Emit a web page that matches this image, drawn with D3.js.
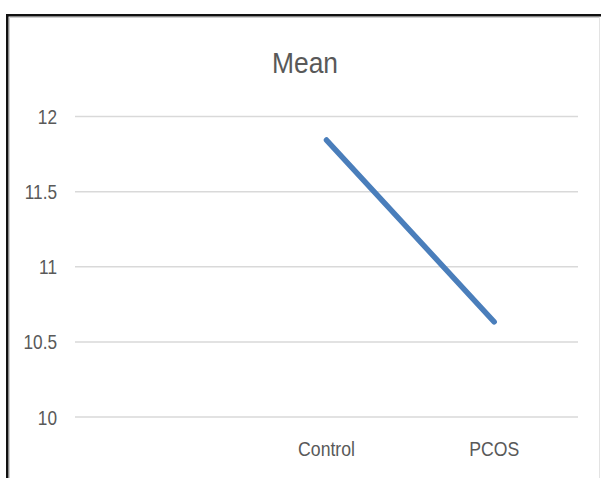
<!DOCTYPE html>
<html>
<head>
<meta charset="utf-8">
<script src="https://cdn.jsdelivr.net/npm/d3@7/dist/d3.min.js"></script>
<style>
  html, body { margin: 0; padding: 0; background: #fff; }
  svg { display: block; }
  text { font-family: "Liberation Sans", Arial, sans-serif; fill: #595959; }
</style>
</head>
<body>
<svg id="chart" width="601" height="478"></svg>
<script>
const title = "Mean";
const categories = ["", "Control", "PCOS"];
const values = [null, 11.84, 10.63];
const yTicks = [10, 10.5, 11, 11.5, 12];
const yDomain = [10, 12];

const W = 601, H = 478;
const svg = d3.select("#chart");

// condense text horizontally (reference uses a narrow font)
function condense(sel, factor) {
  sel.each(function () {
    const len = this.getComputedTextLength();
    if (len > 0) {
      d3.select(this).attr("textLength", len * factor).attr("lengthAdjust", "spacingAndGlyphs");
    }
  });
}

// frame
svg.append("rect").attr("x", 0).attr("y", 0).attr("width", W).attr("height", H).attr("fill", "#fff");
svg.append("path").attr("d", "M7.25,478 V15.25 H601")
  .attr("fill", "none").attr("stroke", "#111").attr("stroke-width", 2.5);
svg.append("path").attr("d", "M9.5,478 V17.5 H600")
  .attr("fill", "none").attr("stroke", "#d0d0d0").attr("stroke-width", 1);
svg.append("line").attr("x1", 599.5).attr("x2", 599.5).attr("y1", 17).attr("y2", 478)
  .attr("stroke", "#e3e3e3").attr("stroke-width", 1);

const x = d3.scaleBand().domain(categories).range([75, 578]).padding(0);
const y = d3.scaleLinear().domain(yDomain).range([416.5, 116]);

// title
svg.append("text").attr("x", 305).attr("y", 73).attr("text-anchor", "middle")
  .style("font-size", "30px").text(title).call(condense, 0.88);

// y axis (gridlines + labels)
const yAxis = d3.axisLeft(y).tickValues(yTicks).tickSize(-(578 - 75)).tickPadding(18)
  .tickFormat(d3.format("~g"));
const gy = svg.append("g").attr("transform", "translate(75,0)").call(yAxis);
gy.select(".domain").remove();
gy.selectAll(".tick line").attr("stroke", "#d9d9d9").attr("stroke-width", 1.5);
gy.selectAll(".tick text").style("font-size", "21px").attr("fill", "#595959")
  .attr("dy", "0.36em").call(condense, 0.82);

// x axis labels
const xAxis = d3.axisBottom(x).tickSize(0).tickPadding(25);
const gx = svg.append("g").attr("transform", "translate(0,416.5)").call(xAxis);
gx.select(".domain").remove();
gx.selectAll(".tick text").style("font-size", "21px").attr("fill", "#595959")
  .call(condense, 0.84);

// line
const line = d3.line()
  .defined(d => d.v != null)
  .x(d => x(d.c) + x.bandwidth() / 2)
  .y(d => y(d.v));
svg.append("path")
  .datum(categories.map((c, i) => ({ c, v: values[i] })))
  .attr("d", line)
  .attr("fill", "none").attr("stroke", "#4a7ebb").attr("stroke-width", 5.5)
  .attr("stroke-linecap", "round").attr("stroke-linejoin", "round");
</script>
</body>
</html>
